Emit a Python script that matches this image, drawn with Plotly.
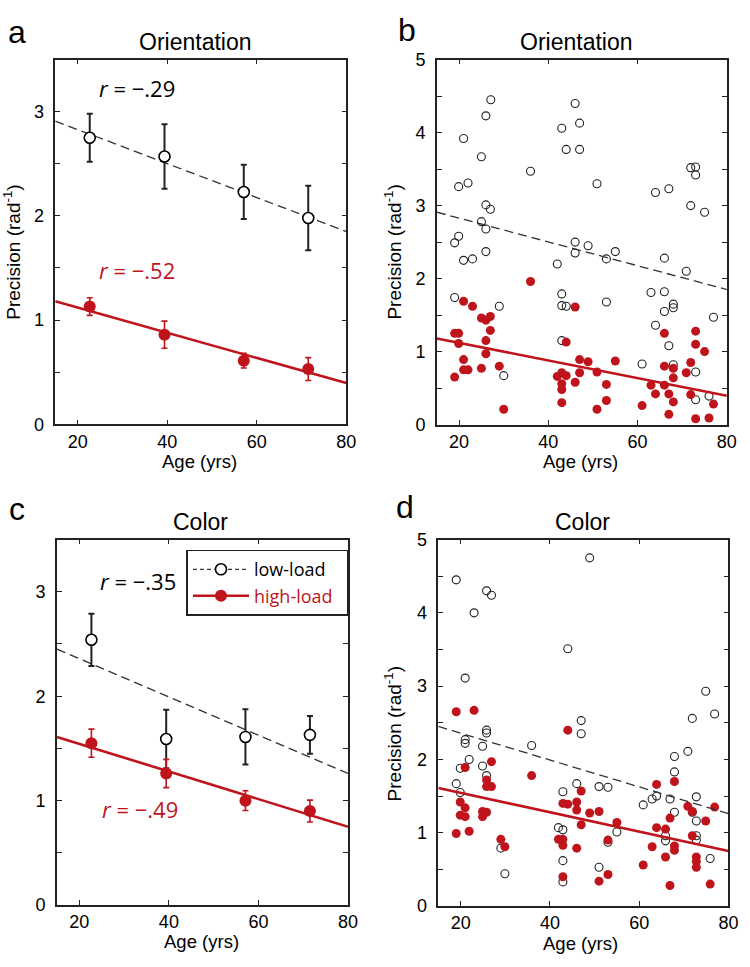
import plotly.graph_objects as go

RED = "#C0141C"

# ---------------- data ----------------
group_age = [22.7, 39.4, 57.1, 71.5]

orient_low_mean = [2.75, 2.57, 2.23, 1.98]
orient_low_err = [0.23, 0.31, 0.26, 0.31]
orient_high_mean = [1.13, 0.86, 0.61, 0.53]
orient_high_err = [0.085, 0.13, 0.07, 0.11]

color_low_mean = [2.54, 1.59, 1.61, 1.63]
color_low_err = [0.25, 0.28, 0.265, 0.18]
color_high_mean = [1.55, 1.26, 1.00, 0.90]
color_high_err = [0.135, 0.135, 0.095, 0.105]

fit_x = [15, 80]
orient_low_fit = [2.91, 1.85]
orient_high_fit = [1.18, 0.395]
color_low_fit = [2.45, 1.26]
color_high_fit = [1.61, 0.75]

orient_low_age = [27.1, 26.0, 21.0, 25.0, 19.9, 22.0, 26.0, 27.0, 25.0, 26.0, 19.9, 19.0, 26.0, 21.0, 23.0,
                  19.0, 29.0, 30.0, 36.0, 43.0, 46.0, 47.0, 44.0, 47.0, 50.9, 46.0, 48.9, 46.0, 55.0, 53.0,
                  42.0, 43.0, 43.0, 44.0, 53.0, 43.0, 64.0, 67.0, 71.9, 73.0, 73.0, 71.9, 75.0, 66.0, 70.9,
                  63.0, 66.0, 66.0, 68.0, 68.0, 64.0, 77.0, 67.0, 61.0, 68.0, 73.0, 73.0, 76.0]
orient_low_val = [4.45, 4.23, 3.92, 3.67, 3.26, 3.31, 3.01, 2.95, 2.78, 2.68, 2.58, 2.49, 2.37, 2.25, 2.27,
                  1.74, 1.62, 0.67, 3.47, 4.06, 4.40, 4.13, 3.77, 3.77, 3.30, 2.50, 2.45, 2.35, 2.37, 2.27,
                  2.20, 1.79, 1.63, 1.62, 1.68, 1.15, 3.18, 3.23, 3.52, 3.53, 3.42, 3.00, 2.91, 2.28, 2.10,
                  1.81, 1.82, 1.55, 1.65, 1.60, 1.36, 1.47, 1.08, 0.83, 0.82, 0.72, 0.34, 0.39]

orient_high_age = [19.0, 19.0, 19.9, 19.9, 21.0, 23.0, 21.0, 21.0, 22.0, 25.0, 26.0, 27.0, 27.0, 26.0, 26.0,
                   25.0, 29.0, 30.0, 36.0, 46.0, 44.0, 42.0, 43.0, 44.0, 43.0, 43.0, 43.0, 46.0, 47.0, 47.0,
                   48.9, 50.9, 55.0, 53.0, 53.0, 50.9, 61.0, 63.0, 64.0, 66.0, 66.0, 66.0, 67.0, 67.0, 68.0,
                   68.0, 68.0, 70.9, 71.9, 71.9, 73.0, 73.0, 75.0, 73.0, 76.0, 77.0]
orient_high_val = [0.65, 1.25, 1.25, 1.11, 1.69, 1.62, 0.89, 0.75, 0.75, 1.46, 1.43, 1.48, 1.29, 1.15, 0.97,
                   0.77, 0.80, 0.21, 1.96, 1.61, 1.13, 0.66, 0.71, 0.67, 0.56, 0.48, 0.30, 0.58, 0.71, 0.89,
                   0.86, 0.72, 0.87, 0.55, 0.33, 0.21, 0.26, 0.54, 0.42, 1.25, 0.80, 0.54, 0.42, 0.14, 0.77,
                   0.64, 0.31, 0.71, 0.85, 0.41, 1.28, 1.10, 1.00, 0.08, 0.09, 0.28]

color_low_age = [19.0, 25.8, 26.9, 23.0, 21.0, 19.0, 19.9, 19.9, 21.0, 21.0, 21.9, 25.8, 25.8, 24.9, 24.9,
                 25.8, 29.0, 29.9, 35.9, 44.0, 48.9, 47.0, 47.0, 46.0, 51.0, 53.0, 42.9, 41.9, 42.9, 42.9,
                 42.9, 51.0, 53.0, 55.0, 60.9, 62.9, 63.9, 66.9, 67.9, 67.9, 67.9, 65.9, 65.9, 70.9, 71.9,
                 74.9, 76.9, 72.8, 72.8, 72.8, 72.8, 71.9, 75.9]
color_low_val = [4.45, 4.30, 4.24, 4.00, 3.11, 1.67, 1.55, 1.88, 2.27, 2.22, 2.00, 2.40, 2.36, 2.18, 1.91,
                 1.78, 0.79, 0.44, 2.19, 3.51, 4.75, 2.53, 2.35, 1.67, 1.63, 1.62, 1.56, 1.07, 1.04, 0.62,
                 0.33, 0.53, 0.87, 1.01, 1.38, 1.46, 1.50, 1.46, 2.04, 1.83, 1.28, 0.89, 0.96, 2.11, 2.56,
                 2.93, 2.62, 1.49, 1.16, 0.96, 0.90, 1.28, 0.65]

color_high_age = [19.0, 23.0, 21.0, 19.0, 19.9, 19.9, 21.0, 21.0, 21.9, 24.9, 24.9, 25.8, 26.9, 25.8, 25.8,
                  26.9, 29.0, 29.9, 35.9, 44.0, 42.9, 44.0, 46.0, 46.0, 47.0, 47.0, 41.9, 42.9, 42.9, 46.0,
                  42.9, 48.9, 51.0, 53.0, 55.0, 51.0, 53.0, 60.9, 62.9, 63.9, 63.9, 65.9, 65.9, 66.9, 67.9,
                  67.9, 67.9, 66.9, 70.9, 71.9, 71.9, 72.8, 72.8, 72.8, 74.9, 76.9, 75.9]
color_high_val = [2.65, 2.67, 1.89, 0.99, 1.42, 1.24, 1.34, 1.22, 1.02, 1.29, 1.22, 1.28, 1.97, 1.72, 1.63,
                  1.63, 0.91, 0.81, 1.78, 2.40, 1.40, 1.39, 1.42, 1.31, 1.57, 1.11, 0.91, 0.91, 0.83, 0.79,
                  0.40, 1.27, 1.29, 0.90, 1.14, 0.34, 0.43, 0.56, 0.81, 1.66, 1.07, 1.05, 0.67, 1.20, 1.70,
                  0.82, 0.76, 0.28, 1.36, 1.29, 0.96, 0.67, 0.61, 0.53, 1.16, 1.35, 0.30]

x_ticks = [20, 40, 60, 80]
y_ticks_small = [0, 1, 2, 3]
y_ticks_big = [0, 1, 2, 3, 4, 5]

# ---------------- figure ----------------
fig = go.Figure()

TICKFONT = dict(family="Liberation Sans", size=18, color="black")


def add_fits(xa, ya, low_fit, high_fit):
    fig.add_trace(go.Scatter(x=fit_x, y=low_fit, mode="lines", xaxis=xa, yaxis=ya,
                             line=dict(color="#333333", width=1.3, dash="9px,5px"), showlegend=False,
                             hoverinfo="skip"))
    fig.add_trace(go.Scatter(x=fit_x, y=high_fit, mode="lines", xaxis=xa, yaxis=ya,
                             line=dict(color=RED, width=2.6), showlegend=False, hoverinfo="skip"))


def add_means(xa, ya, low_m, low_e, high_m, high_e):
    fig.add_trace(go.Scatter(x=group_age, y=low_m, mode="markers", xaxis=xa, yaxis=ya,
                             error_y=dict(type="data", array=low_e, color="#222222", thickness=2, width=3),
                             marker=dict(size=11, color="white", line=dict(color="black", width=1.6)),
                             showlegend=False))
    fig.add_trace(go.Scatter(x=group_age, y=high_m, mode="markers", xaxis=xa, yaxis=ya,
                             error_y=dict(type="data", array=high_e, color=RED, thickness=1.6, width=3),
                             marker=dict(size=12, color=RED),
                             showlegend=False))


def add_scatter(xa, ya, la, lv, ha, hv):
    fig.add_trace(go.Scatter(x=la, y=lv, mode="markers", xaxis=xa, yaxis=ya,
                             marker=dict(size=8, color="rgba(255,255,255,0)", line=dict(color="#222222", width=1.1)),
                             showlegend=False))
    fig.add_trace(go.Scatter(x=ha, y=hv, mode="markers", xaxis=xa, yaxis=ya,
                             marker=dict(size=9, color=RED), showlegend=False))


# panel a
add_fits("x", "y", orient_low_fit, orient_high_fit)
add_means("x", "y", orient_low_mean, orient_low_err, orient_high_mean, orient_high_err)
# panel b
add_scatter("x2", "y2", orient_low_age, orient_low_val, orient_high_age, orient_high_val)
add_fits("x2", "y2", orient_low_fit, orient_high_fit)
# panel c
add_fits("x3", "y3", color_low_fit, color_high_fit)
add_means("x3", "y3", color_low_mean, color_low_err, color_high_mean, color_high_err)
# panel d
add_scatter("x4", "y4", color_low_age, color_low_val, color_high_age, color_high_val)
add_fits("x4", "y4", color_low_fit, color_high_fit)

# legend traces (panel c)
fig.add_trace(go.Scatter(x=[None], y=[None], mode="lines+markers", xaxis="x3", yaxis="y3",
                         name="low-load\u00a0\u00a0",
                         line=dict(color="#333333", width=1.3, dash="4px,3px"),
                         marker=dict(size=11, color="white", line=dict(color="black", width=1.6))))
fig.add_trace(go.Scatter(x=[None], y=[None], mode="lines+markers", xaxis="x3", yaxis="y3",
                         name="<span style='color:%s'>high-load</span>\u00a0\u00a0" % RED,
                         line=dict(color=RED, width=2.6),
                         marker=dict(size=12, color=RED)))


def xaxis(domain, anchor):
    return dict(domain=domain, anchor=anchor, range=[15, 80], tickvals=x_ticks, ticks="inside",
                ticklen=5, tickwidth=1, tickcolor="#222222", showline=True, linecolor="#222222",
                linewidth=1.5, mirror="ticks", showgrid=False, zeroline=False, tickfont=TICKFONT)


def yaxis(domain, anchor, rng, vals):
    return dict(domain=domain, anchor=anchor, range=rng, tickvals=vals, ticks="inside",
                ticklen=5, tickwidth=1, tickcolor="#222222", showline=True, linecolor="#222222",
                linewidth=1.5, mirror="ticks", showgrid=False, zeroline=False, tickfont=TICKFONT,
                ticklabelstandoff=6,
                minor=dict(dtick=0.5, tick0=0, ticks="inside", ticklen=5, tickwidth=1,
                           tickcolor="#222222", showgrid=False))


W, H = 750, 967


def px(x):
    return x / W


def py(y):
    return 1 - y / H


fig.update_layout(
    width=W, height=H, margin=dict(l=0, r=0, t=0, b=0),
    paper_bgcolor="white", plot_bgcolor="white",
    xaxis=xaxis([px(56), px(351)], "y"),
    yaxis=yaxis([py(423), py(50.7)], "x", [0, 3.5], y_ticks_small),
    xaxis2=xaxis([px(442.7), px(736.7)], "y2"),
    yaxis2=yaxis([py(423.3), py(50.7)], "x2", [0, 5], y_ticks_big),
    xaxis3=xaxis([px(57.7), px(352.7)], "y3"),
    yaxis3=yaxis([py(914), py(540.7)], "x3", [0, 3.5], y_ticks_small),
    xaxis4=xaxis([px(444.3), px(738.3)], "y4"),
    yaxis4=yaxis([py(915), py(540.7)], "x4", [0, 5], y_ticks_big),
    showlegend=True,
    legend=dict(x=px(189), y=py(551), xanchor="left", yanchor="top",
                bordercolor="#222222", borderwidth=1.5, bgcolor="white",
                font=dict(family="Open Sans", size=18, color="black"),
                itemwidth=56, tracegroupgap=0),
)

ann = []


def text(x, y, s, size, xanchor="center", color="black", family="Liberation Sans", angle=0):
    ann.append(dict(x=px(x), y=py(y), xref="paper", yref="paper", text=s, showarrow=False,
                    xanchor=xanchor, yanchor="middle", textangle=angle,
                    font=dict(family=family, size=size, color=color)))


# panel letters
text(17, 22, "a", 32)
text(412, 20, "b", 32)
text(17, 510, "c", 32)
text(410, 507, "d", 32)
# titles
text(198, 33, "Orientation", 23)
text(584, 33, "Orientation", 23)
text(203, 523, "Color", 23)
text(590, 523, "Color", 23)
# x axis titles
text(202, 461, "Age (yrs)", 18.5)
text(588, 461, "Age (yrs)", 18.5)
text(204, 951, "Age (yrs)", 18.5)
text(588, 953, "Age (yrs)", 18.5)
# y axis titles
text(12, 247, "Precision (rad<sup>-1</sup>)", 19, angle=-90)
text(398, 247, "Precision (rad<sup>-1</sup>)", 19, angle=-90)
text(398, 739, "Precision (rad<sup>-1</sup>)", 19, angle=-90)
# correlations
text(98, 80, "<i>r</i> = \u2212.29", 22, xanchor="left", family="Open Sans")
text(98, 265, "<i>r</i> = \u2212.52", 22, xanchor="left", color=RED, family="Open Sans")
text(99, 583, "<i>r</i> = \u2212.35", 22, xanchor="left", family="Open Sans")
text(101, 816, "<i>r</i> = \u2212.49", 22, xanchor="left", color=RED, family="Open Sans")

fig.update_layout(annotations=ann)

fig.write_html("out.html", config={"displayModeBar": False},
               post_script="document.body.style.margin='0px';document.body.style.padding='0px';")
